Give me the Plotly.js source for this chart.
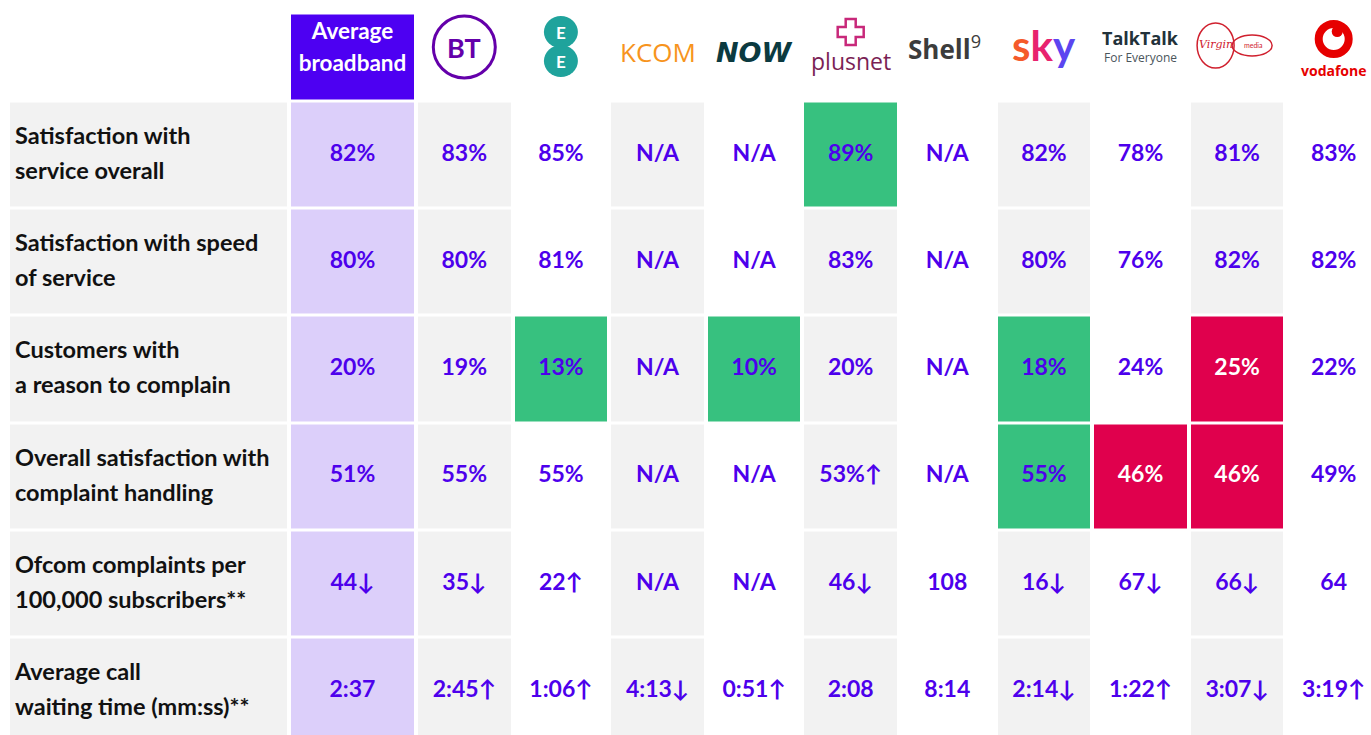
<!DOCTYPE html>
<html><head><meta charset="utf-8">
<script src="https://cdn.plot.ly/plotly-3.0.1.min.js"></script>
<style>html,body{margin:0;padding:0;background:#fff;}#chart{width:1371px;height:735px;}</style>
</head><body><div id="chart"></div>
<script>
// ---------------- DATA ----------------
const providers = ['Average broadband','BT','EE','KCOM','NOW','Plusnet','Shell','Sky','TalkTalk','Virgin Media','Vodafone'];
const metrics = [
  'Satisfaction with<br>service overall',
  'Satisfaction with speed<br>of service',
  'Customers with<br>a reason to complain',
  'Overall satisfaction with<br>complaint handling',
  'Ofcom complaints per<br>100,000 subscribers**',
  'Average call<br>waiting time (mm:ss)**'
];
const satOverall        = ['82%','83%','85%','N/A','N/A','89%','N/A','82%','78%','81%','83%'];
const satSpeed          = ['80%','80%','81%','N/A','N/A','83%','N/A','80%','76%','82%','82%'];
const reasonToComplain  = ['20%','19%','13%','N/A','10%','20%','N/A','18%','24%','25%','22%'];
const complaintHandling = ['51%','55%','55%','N/A','N/A','53%↑','N/A','55%','46%','46%','49%'];
const ofcomComplaints   = ['44↓','35↓','22↑','N/A','N/A','46↓','108','16↓','67↓','66↓','64'];
const callWaiting       = ['2:37','2:45↑','1:06↑','4:13↓','0:51↑','2:08','8:14','2:14↓','1:22↑','3:07↓','3:19↑'];
// significance vs average: 'H' = better (green), 'L' = worse (red), '' = none
const sigOverall        = ['','','','','','H','','','','',''];
const sigSpeed          = ['','','','','','','','','','',''];
const sigReason         = ['','','H','','H','','','H','','L',''];
const sigHandling       = ['','','','','','','','H','L','L',''];
const sigOfcom          = ['','','','','','','','','','',''];
const sigWaiting        = ['','','','','','','','','','',''];

const rowValues = [satOverall, satSpeed, reasonToComplain, complaintHandling, ofcomComplaints, callWaiting];
const rowSig    = [sigOverall, sigSpeed, sigReason, sigHandling, sigOfcom, sigWaiting];

// ---------------- LAYOUT GEOMETRY ----------------
const xEdges = [8, 289, 416];
for (let i = 1; i <= 9; i++) xEdges.push(416 + 96.6 * i);
xEdges.push(1382);
const yEdges = [13.5, 101.5];
for (let i = 1; i <= 6; i++) yEdges.push(101.5 + 107.2 * i);

const C = {white:'#ffffff', gray:'#f2f2f2', lav:'#dccffa', green:'#37c17f', red:'#e0004d', head:'#4d00f2'};
const codes = ['white','gray','lav','green','red','head'];
const colorscale = [];
codes.forEach((k,i)=>{ colorscale.push([i/codes.length, C[k]]); colorscale.push([(i+1)/codes.length, C[k]]); });

// z matrix: header row + metric rows ; columns: label col + providers
const z = [];
const headRow = [0];
providers.forEach((p,i)=> headRow.push(i===0 ? 5 : 0));
z.push(headRow);
rowValues.forEach((vals, r)=>{
  const row = [1];
  vals.forEach((v,i)=>{
    const s = rowSig[r][i];
    if (s==='H') row.push(3);
    else if (s==='L') row.push(4);
    else if (i===0) row.push(2);
    else row.push(i % 2 === 1 ? 1 : 0);
  });
  z.push(row);
});

const mid = (a,i)=> (a[i]+a[i+1])/2;
const FONT = 'Lato, "Open Sans", sans-serif';
const PURPLE = '#4d00ec';

// value texts
const vx=[], vy=[], vt=[], vc=[];
rowValues.forEach((vals,r)=>{
  vals.forEach((v,i)=>{
    vx.push(mid(xEdges,i+1)); vy.push(mid(yEdges,r+1));
    vt.push('<b>'+v+'</b>');
    vc.push(rowSig[r][i]==='L' ? '#ffffff' : PURPLE);
  });
});
// label texts
const lx=[], ly=[], lt=[];
metrics.forEach((m,r)=>{
  const lines = m.split('<br>');
  const cy = mid(yEdges,r+1);
  lines.forEach((ln,k)=>{
    lx.push(15); ly.push(cy + 0.5 + (k - (lines.length-1)/2)*35); lt.push('<b>'+ln+'</b>');
  });
});
// header text for Average
const hx=[], hy=[], ht=[];
providers[0].split(' ').forEach((w,k,arr)=>{
  hx.push(mid(xEdges,1)); hy.push(49 + (k-(arr.length-1)/2)*32); ht.push('<b>'+w+'</b>');
});

const traces = [
  {type:'heatmap', x:xEdges, y:yEdges, z:z, colorscale:colorscale, zmin:0, zmax:codes.length-1+1e-9,
   showscale:false, xgap:4, ygap:3, hoverinfo:'skip'},
  {type:'scatter', mode:'text', x:vx, y:vy, text:vt, textposition:'middle center',
   textfont:{family:FONT, size:23, color:vc}, hoverinfo:'skip', cliponaxis:false},
  {type:'scatter', mode:'text', x:lx, y:ly, text:lt, textposition:'middle right',
   textfont:{family:FONT, size:23.5, color:'#111111'}, hoverinfo:'skip', cliponaxis:false},
  {type:'scatter', mode:'text', x:hx, y:hy, text:ht, textposition:'middle center',
   textfont:{family:FONT, size:22.5, color:'#ffffff'}, hoverinfo:'skip', cliponaxis:false}
];

// ---------------- LOGOS (header decorations) ----------------
const cx = i => mid(xEdges, i+1);
const shapes = [
  // BT ring
  {type:'circle', xref:'x', yref:'y', x0:cx(1)-31, x1:cx(1)+31, y0:16, y1:78, line:{color:'#6400aa', width:3}},
  // EE circles
  {type:'circle', xref:'x', yref:'y', x0:cx(2)-17, x1:cx(2)+17, y0:16, y1:48, fillcolor:'#1fa39c', line:{width:0}},
  {type:'circle', xref:'x', yref:'y', x0:cx(2)-17, x1:cx(2)+17, y0:45, y1:77, fillcolor:'#1fa39c', line:{width:0}},
  // plusnet cross
  {type:'path', xref:'x', yref:'y', line:{color:'#c8287a', width:2.5},
   path:`M ${cx(5)-5} 19 L ${cx(5)+5} 19 L ${cx(5)+5} 27 L ${cx(5)+13} 27 L ${cx(5)+13} 37 L ${cx(5)+5} 37 L ${cx(5)+5} 45 L ${cx(5)-5} 45 L ${cx(5)-5} 37 L ${cx(5)-13} 37 L ${cx(5)-13} 27 L ${cx(5)-5} 27 Z`},
  // Virgin loops
  {type:'circle', xref:'x', yref:'y', x0:cx(9)-40, x1:cx(9)-3, y0:23, y1:68, line:{color:'#d0202e', width:1.5}},
  {type:'circle', xref:'x', yref:'y', x0:cx(9)-5, x1:cx(9)+35, y0:35, y1:56, line:{color:'#d0202e', width:1.5}},
  // Vodafone
  {type:'circle', xref:'x', yref:'y', x0:cx(10)-15, x1:cx(10)+15, y0:24, y1:54, line:{color:'#e60000', width:8}},
  {type:'circle', xref:'x', yref:'y', x0:cx(10)-2, x1:cx(10)+9, y0:26, y1:37, fillcolor:'#e60000', line:{width:0}},
];
const A = (x,y,text,size,color,extra)=>Object.assign({xref:'x',yref:'y',x:x,y:y,text:text,showarrow:false,
  font:{family:FONT,size:size,color:color}, xanchor:'center', yanchor:'middle'}, extra||{});
const annotations = [
  A(cx(1),47,'<b>BT</b>',27,'#6400aa'),
  A(cx(2),32,'<b>E</b>',17,'#ffffff'),
  A(cx(2),61,'<b>E</b>',17,'#ffffff'),
  A(cx(3),52,'KCOM',27,'#f7941d',{font:{family:'"Open Sans", sans-serif',size:26,color:'#f7941d',weight:500}}),
  A(cx(4),52,'<b><i>NOW</i></b>',30,'#0b3a40',{font:{family:'"DejaVu Sans", sans-serif',size:27,color:'#0b3a40'}}),
  A(cx(5),61,'plusnet',23,'#7b1f55',{font:{family:'"Open Sans", sans-serif',size:23,color:'#7b1f55'}}),
  A(cx(6)-3,48,'<b>Shell</b><sup>9</sup>',27,'#3c3c3c',{font:{family:'"Open Sans", sans-serif',size:26,color:'#3c3c3c'}}),
  A(cx(7),45,'<b><span style="color:#f55a2a">s</span><span style="color:#e8236e">k</span><span style="color:#5b45f0">y</span></b>',42,'#e8236e'),
  A(cx(8),38,'<b>TalkTalk</b>',19,'#22323a',{font:{family:'"Open Sans", sans-serif',size:18,color:'#22323a'}}),
  A(cx(8),57,'For Everyone',12,'#4a555b',{font:{family:'"Open Sans", sans-serif',size:12,color:'#4a555b'}}),
  A(cx(9)-21,44,'<i>Virgin</i>',12,'#d0202e',{font:{family:'"DejaVu Serif", serif',size:11,color:'#d0202e'}}),
  A(cx(9)+16,45,'media',7,'#d0202e'),
  A(cx(10),70,'<b>vodafone</b>',15,'#e60000',{font:{family:'"Open Sans", sans-serif',size:14,color:'#e60000'}}),
];

const layout = {
  width:1371, height:735, margin:{l:0,r:0,t:0,b:0}, paper_bgcolor:'#ffffff', plot_bgcolor:'#ffffff',
  xaxis:{range:[0,1371], visible:false, fixedrange:true},
  yaxis:{range:[735,0], visible:false, fixedrange:true},
  showlegend:false, shapes:shapes, annotations:annotations, hovermode:false
};
Plotly.newPlot('chart', traces, layout, {displayModeBar:false, staticPlot:true});
</script>
</body></html>
